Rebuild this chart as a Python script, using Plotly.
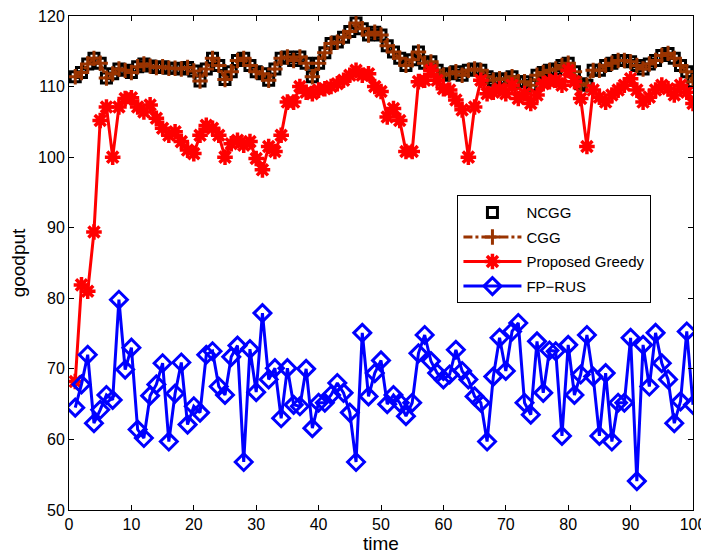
import plotly.graph_objects as go

time = list(range(1, 101))

ncgg = [111.4, 112.0, 113.2, 114.0, 113.3, 111.2, 111.8, 112.5, 112.3, 112.0,
        112.8, 113.2, 112.9, 112.7, 112.8, 112.6, 112.6, 112.5, 112.7, 112.2,
        110.8, 112.5, 114.0, 113.0, 111.0, 112.1, 113.7, 114.0, 113.0, 112.1,
        111.8, 110.9, 112.5, 114.0, 114.2, 113.7, 114.2, 113.3, 111.4, 113.3,
        114.8, 116.1, 116.3, 117.0, 117.8, 119.0, 118.2, 117.3, 117.7, 117.3,
        115.8, 114.9, 114.0, 113.0, 113.8, 114.9, 113.3, 113.5, 112.3, 111.6,
        111.8, 112.1, 111.6, 112.3, 112.5, 112.3, 111.4, 110.9, 111.1, 111.0,
        111.4, 110.7, 110.7, 110.2, 111.6, 112.0, 112.3, 112.5, 113.0, 113.3,
        112.1, 110.4, 110.2, 112.3, 112.3, 113.0, 113.3, 113.7, 113.7, 113.5,
        113.0, 112.5, 113.2, 113.7, 114.4, 114.7, 114.0, 113.0, 112.1, 110.7]

cgg = list(ncgg)

greedy = [68.2, 81.9, 81.0, 89.4, 105.2, 107.1, 100.0, 107.1, 108.3, 108.4,
          107.1, 106.4, 107.4, 105.5, 104.1, 103.1, 103.6, 102.2, 101.0, 100.5,
          103.1, 104.5, 104.1, 103.1, 100.0, 101.9, 102.4, 101.7, 102.2, 99.8,
          98.2, 101.5, 100.8, 103.1, 107.8, 107.8, 110.0, 109.2, 109.0, 109.5,
          109.7, 110.0, 110.4, 110.9, 111.6, 112.3, 111.6, 111.8, 110.0, 109.3,
          105.7, 106.9, 105.2, 100.8, 100.8, 110.7, 110.9, 112.3, 110.9, 109.7,
          109.5, 108.1, 106.7, 100.0, 107.1, 110.9, 109.0, 109.2, 109.7, 109.0,
          110.2, 108.3, 109.0, 107.6, 108.8, 110.4, 110.7, 110.9, 110.2, 112.3,
          110.7, 108.3, 101.5, 109.5, 108.5, 107.8, 108.8, 109.5, 110.2, 111.1,
          109.5, 107.8, 108.5, 109.5, 110.2, 109.7, 108.8, 110.2, 109.2, 107.6]

fprus = [64.5, 67.8, 72.0, 62.3, 64.2, 66.3, 65.6, 79.8, 69.9, 73.0,
         61.4, 60.2, 66.2, 67.8, 70.8, 59.7, 66.5, 70.9, 62.1, 64.7,
         63.8, 72.0, 72.5, 67.5, 66.3, 71.7, 73.3, 56.8, 72.8, 66.7,
         77.9, 68.5, 70.1, 63.0, 70.1, 64.9, 64.7, 70.0, 61.6, 65.2,
         65.2, 66.3, 68.0, 66.6, 63.8, 56.8, 75.1, 66.1, 69.4, 71.2,
         65.0, 66.3, 65.2, 63.3, 65.2, 72.2, 74.8, 71.1, 69.4, 68.5,
         69.2, 72.7, 69.7, 68.5, 66.1, 65.2, 59.7, 68.9, 74.4, 69.7,
         75.3, 76.5, 65.2, 63.5, 73.9, 66.6, 72.6, 72.5, 60.5, 73.4,
         66.3, 69.2, 74.8, 68.9, 60.5, 69.4, 59.7, 65.2, 65.2, 74.4,
         54.1, 73.4, 67.5, 75.1, 70.8, 68.5, 62.3, 65.4, 75.3, 64.9]

x_ticks = [0, 10, 20, 30, 40, 50, 60, 70, 80, 90, 100]
y_ticks = [50, 60, 70, 80, 90, 100, 110, 120]

FONT = "Liberation Sans, Arial, Helvetica, sans-serif"

fig = go.Figure()
fig.add_trace(go.Scatter(
    x=time, y=ncgg, name="NCGG", mode="markers", legendgroup="a",
    marker=dict(symbol="square-open", size=10, color="black",
                line=dict(width=3, color="black"))))
fig.add_trace(go.Scatter(
    x=time, y=cgg, name="CGG", mode="lines+markers", legendgroup="b",
    line=dict(color="#993300", width=3, dash="dashdot"),
    marker=dict(symbol="cross-thin-open", size=11, color="#993300",
                line=dict(width=3, color="#993300"))))
fig.add_trace(go.Scatter(
    x=time, y=greedy, name="Proposed Greedy", mode="lines+markers", legendgroup="c",
    line=dict(color="#ff0000", width=3),
    marker=dict(symbol="asterisk-open", size=13, color="#ff0000",
                line=dict(width=3.5, color="#ff0000"))))
fig.add_trace(go.Scatter(
    x=time, y=fprus, name="FP\u2212RUS", mode="lines+markers", legendgroup="d",
    line=dict(color="#0000ff", width=3),
    marker=dict(symbol="diamond-open", size=13, color="#0000ff",
                line=dict(width=3, color="#0000ff"))))

fig.update_layout(
    width=701, height=546,
    margin=dict(l=61, r=16, t=8, b=44),
    paper_bgcolor="white", plot_bgcolor="white",
    font=dict(family=FONT, size=16, color="black"),
    showlegend=True,
    legend=dict(x=0.6225, y=0.637, xanchor="left", yanchor="top",
                bgcolor="white", bordercolor="black", borderwidth=1,
                font=dict(family=FONT, size=15, color="black"),
                tracegroupgap=2, itemwidth=58),
    xaxis=dict(range=[0, 100], tickvals=x_ticks, ticktext=[str(v) for v in x_ticks],
               ticks="inside", ticklen=5, tickcolor="black", showline=True,
               linecolor="black", linewidth=1, mirror="ticks", showgrid=False,
               zeroline=False, automargin=False, ticklabeloverflow="allow",
               title=dict(text="time", standoff=6),
               tickfont=dict(size=16)),
    yaxis=dict(range=[50, 120], tickvals=y_ticks, ticktext=[str(v) for v in y_ticks],
               ticks="inside", ticklen=5, tickcolor="black", showline=True,
               linecolor="black", linewidth=1, mirror="ticks", showgrid=False,
               zeroline=False, automargin=False, ticklabeloverflow="allow",
               title=dict(text="goodput", standoff=16),
               tickfont=dict(size=16)),
)

fig.write_html("out.html")
